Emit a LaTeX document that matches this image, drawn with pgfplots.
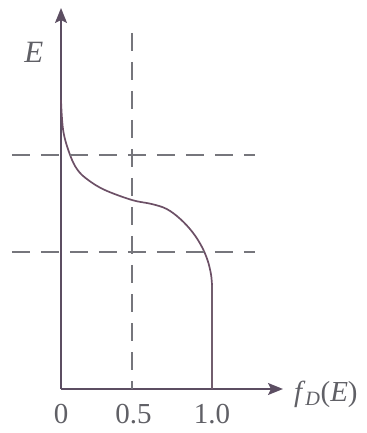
\documentclass[border=0pt]{standalone}
\usepackage{pgfplots}
\pgfplotsset{compat=1.18}
\usepackage{fontspec}
\setmainfont{Liberation Serif}
\usetikzlibrary{arrows.meta}

\definecolor{axiscol}{RGB}{92,78,98}
\definecolor{curvecol}{RGB}{108,80,102}
\definecolor{dashcol}{RGB}{118,118,124}
\definecolor{textcol}{RGB}{96,96,102}

\begin{document}
\begin{tikzpicture}
\begin{axis}[
  x=151bp, y=1bp,
  xmin=0, xmax=1.47, ymin=0, ymax=381,
  axis lines=left,
  axis line style={axiscol, line width=1.7bp, -{Stealth[length=15bp,width=12bp,inset=3bp]}},
  xtick={0,0.48,1}, xticklabels={0,0.5,1.0},
  ytick=\empty,
  major tick length=0pt,
  xticklabel style={anchor=center, yshift=-25bp, text=textcol,
    font=\fontsize{29bp}{33bp}\selectfont},
  clip=false,
]
  % Fermi-Dirac occupation: E on the vertical axis, f_D(E) horizontal
  \addplot[curvecol, line width=1.7bp, smooth, tension=0.6] coordinates {
    (0,289) (0.015,258) (0.06,234) (0.11,219) (0.18,209) (0.29,199)
    (0.47,189) (0.6,185) (0.7,180) (0.79,170) (0.87,157) (0.93,143)
    (0.97,129) (0.993,115) (1.0,104)
  };
  \addplot[curvecol!70!gray, line width=1.7bp] coordinates {(1.0,104) (1.0,0)};

  % reference lines
  \addplot[dashcol, line width=1.6bp, dash pattern=on 18bp off 11bp]
    coordinates {(0.47,356) (0.47,0)};
  \addplot[dashcol, line width=1.6bp, dash pattern=on 18bp off 11bp]
    coordinates {(-0.325,234) (1.285,234)};
  \addplot[dashcol, line width=1.6bp, dash pattern=on 18bp off 11bp]
    coordinates {(-0.325,137) (1.285,137)};

  \node[text=textcol, font=\fontsize{31bp}{35bp}\selectfont\itshape]
    at (axis cs:-0.18,337) {E};
  \node[text=textcol, anchor=west, font=\fontsize{29bp}{33bp}\selectfont]
    at (axis cs:1.52,-5) {\textit{f}\textsubscript{\textit{D}}(\textit{E})};

  \path (axis cs:-0.404,-44) rectangle (axis cs:2.0199,389);
\end{axis}
\end{tikzpicture}
\end{document}
